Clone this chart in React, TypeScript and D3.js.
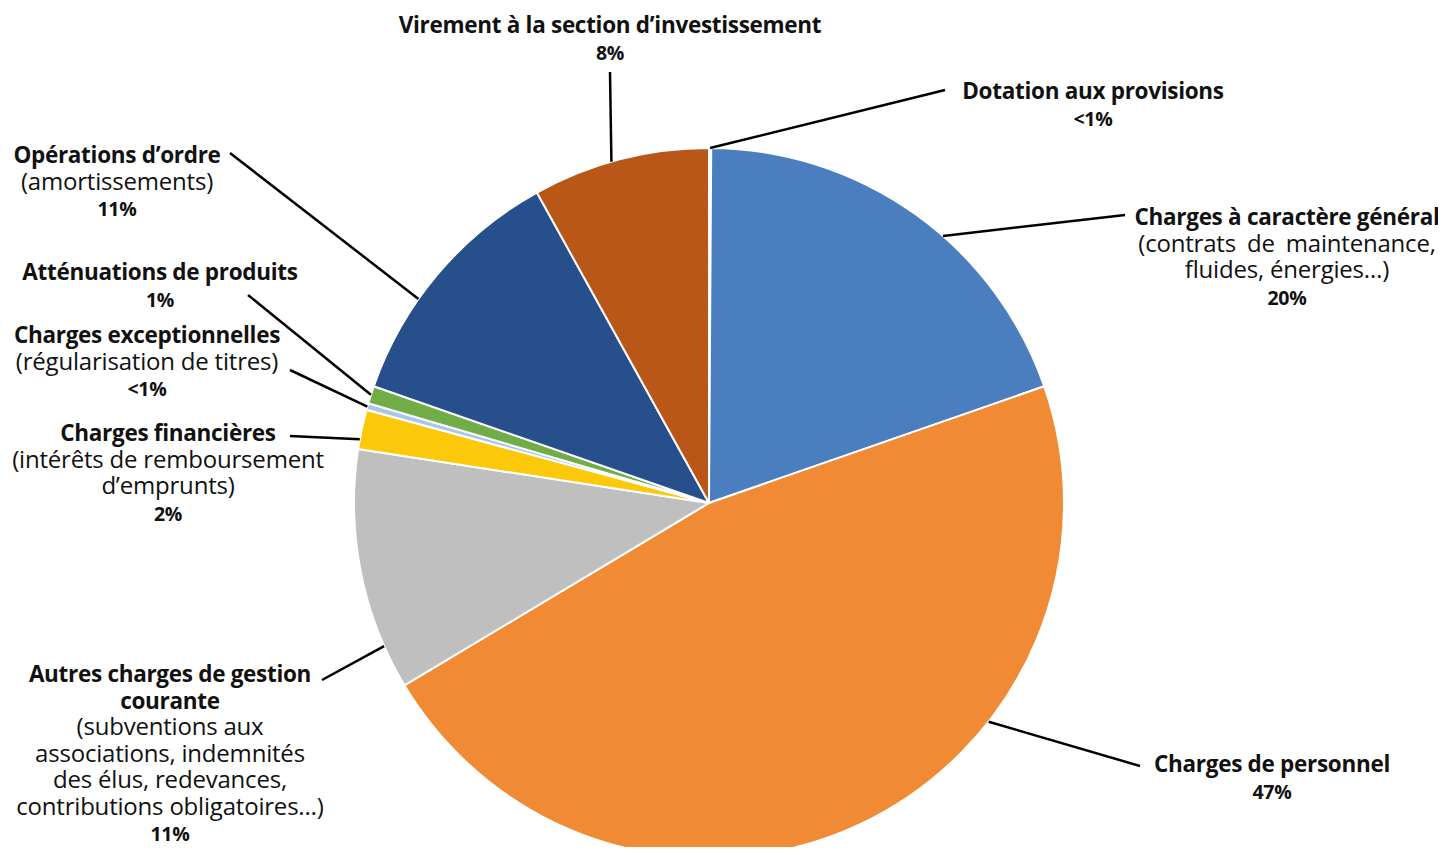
import * as d3 from "d3";

// slices clockwise from 12 o'clock
const categories = [
  "Dotation aux provisions",
  "Charges à caractère général",
  "Charges de personnel",
  "Autres charges de gestion courante",
  "Charges financières",
  "Charges exceptionnelles",
  "Atténuations de produits",
  "Opérations d'ordre",
  "Virement à la section d'investissement",
];
const shares = [0.1, 19.55, 46.7, 11.0, 1.8, 0.3, 0.8, 11.6, 8.05];
const colors = ["#a9c6e8", "#4a7ebf", "#f08a34", "#bfbfbf", "#fcc80a", "#a9c6e8", "#70ad47", "#264f8b", "#b85718"];
const pctLabels = ["<1%", "20%", "47%", "11%", "2%", "<1%", "1%", "11%", "8%"];

type Line = { t: string; bold?: boolean; spacing?: number };
// label blocks: centre x, first baseline, lines, leader start, anchor position within slice
const labels: { x: number; y: number; lines: Line[]; from: [number, number]; t: number }[] = [
  { x: 1093, y: 99, lines: [{ t: "Dotation aux provisions", bold: true }], from: [945, 90], t: 0.5 },
  {
    x: 1287, y: 225,
    lines: [
      { t: "Charges à caractère général", bold: true },
      { t: "(contrats de maintenance,", spacing: 5 },
      { t: "fluides, énergies…)" },
    ],
    from: [1125, 215], t: 0.58,
  },
  { x: 1272, y: 772, lines: [{ t: "Charges de personnel", bold: true }], from: [1140, 766], t: 0.34 },
  {
    x: 170, y: 682,
    lines: [
      { t: "Autres charges de gestion", bold: true },
      { t: "courante", bold: true },
      { t: "(subventions aux" },
      { t: "associations, indemnités" },
      { t: "des élus, redevances," },
      { t: "contributions obligatoires…)" },
    ],
    from: [322, 680], t: 0.18,
  },
  {
    x: 168, y: 441,
    lines: [
      { t: "Charges financières", bold: true },
      { t: "(intérêts de remboursement" },
      { t: "d’emprunts)" },
    ],
    from: [290, 436], t: 0.25,
  },
  {
    x: 147, y: 343,
    lines: [
      { t: "Charges exceptionnelles", bold: true },
      { t: "(régularisation de titres)" },
    ],
    from: [290, 370], t: 0.5,
  },
  { x: 160, y: 280, lines: [{ t: "Atténuations de produits", bold: true }], from: [248, 295], t: 0.5 },
  {
    x: 117, y: 163,
    lines: [
      { t: "Opérations d’ordre", bold: true },
      { t: "(amortissements)" },
    ],
    from: [230, 153], t: 0.38,
  },
  { x: 610, y: 33, lines: [{ t: "Virement à la section d’investissement", bold: true }], from: [610, 72], t: 0.45 },
];

const W = 1446;
const H = 855;
const cx = 709;
const cy = 503;
const R = 355;
const LH = 26.5;
const FONT = "'Open Sans', 'Noto Sans', sans-serif";

export default function App() {
  const pie = d3.pie<number>().sort(null).value((d) => d).startAngle(0).endAngle(2 * Math.PI);
  const arcsData = pie(shares);
  const arcGen = d3.arc<d3.PieArcDatum<number>>().innerRadius(0).outerRadius(R);

  return (
    <div style={{ margin: -8, width: W, height: H, background: "#fff" }}>
      <svg width={W} height={H} style={{ display: "block", fontFamily: FONT }}>
        <rect x={0} y={0} width={W} height={H} fill="#fff" />
        <g transform={`translate(${cx},${cy})`}>
          {arcsData.map((a, i) => (
            <path key={i} d={arcGen(a)!} fill={colors[i]} stroke="#fff" strokeWidth={2} strokeLinejoin="round" />
          ))}
        </g>
        {labels.map((lb, i) => {
          const a = arcsData[i];
          const ang = a.startAngle + lb.t * (a.endAngle - a.startAngle);
          const ax = cx + R * Math.sin(ang);
          const ay = cy - R * Math.cos(ang);
          return (
            <g key={`l-${i}`}>
              <line x1={lb.from[0]} y1={lb.from[1]} x2={ax} y2={ay} stroke="#000" strokeWidth={2.5} />
              <text textAnchor="middle" fill="#111">
                {lb.lines.map((ln, j) => (
                  <tspan
                    key={j}
                    x={lb.x}
                    y={lb.y + j * LH}
                    fontWeight={ln.bold ? 700 : 400}
                    fontSize={ln.bold ? 22.5 : 24}
                    letterSpacing={ln.bold ? -0.3 : -0.2}
                    wordSpacing={ln.spacing ?? 0}
                  >
                    {ln.t}
                  </tspan>
                ))}
                <tspan x={lb.x} y={lb.y + lb.lines.length * LH} fontWeight={700} fontSize={19.5} letterSpacing={-0.3}>
                  {pctLabels[i]}
                </tspan>
              </text>
            </g>
          );
        })}
      </svg>
    </div>
  );
}
